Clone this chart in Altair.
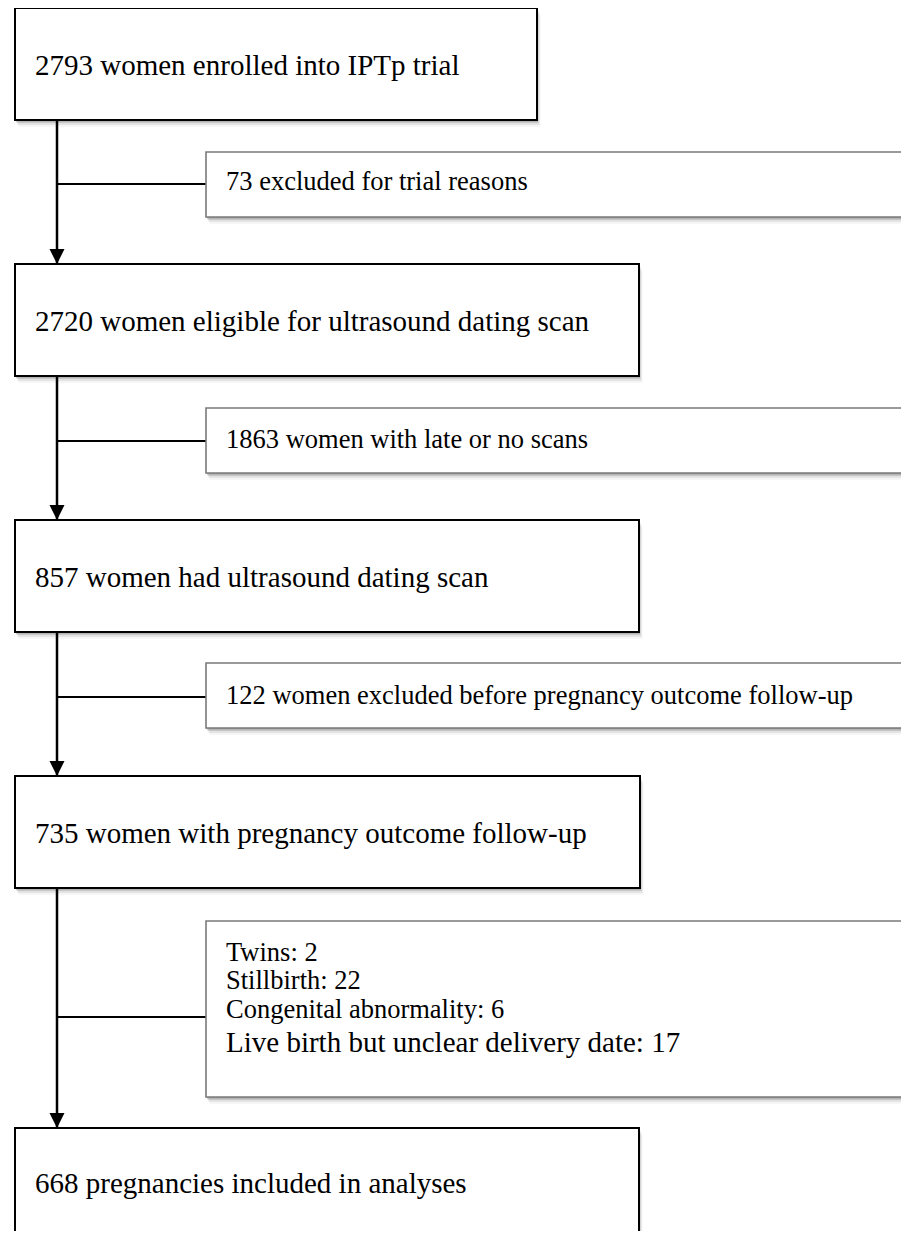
import altair as alt
import pandas as pd

# ---- page geometry (plot area placed at the page margin, identity pixel mapping) ----
W, H = 893, 1223
X0, Y0 = 8, 8

# ---- flowchart content ----
main_labels = [
    "2793 women enrolled into IPTp trial",
    "2720 women eligible for ultrasound dating scan",
    "857 women had ultrasound dating scan",
    "735 women with pregnancy outcome follow-up",
    "668 pregnancies included in analyses",
]
main_left = [15, 15, 15, 15, 15]
main_right = [537, 639, 639, 640, 639]
main_top = [8, 264, 520, 776, 1128]
main_bottom = [120, 376, 632, 888, 1252]
main_text_y = [66, 322, 578, 834, 1184]

side_lines = [
    ["73 excluded for trial reasons"],
    ["1863 women with late or no scans"],
    ["122 women excluded before pregnancy outcome follow-up"],
    ["Twins: 2", "Stillbirth: 22", "Congenital abnormality: 6",
     "Live birth but unclear delivery date: 17"],
]
side_line_y = [[182], [440], [696], [953, 981, 1010, 1043]]
side_line_size = [[26.5], [26.5], [26.5], [26.5, 26.5, 26.5, 29]]
side_left = [206, 206, 206, 206]
side_right = [915, 915, 915, 915]
side_top = [152, 408, 663, 921]
side_bottom = [217, 473, 728, 1097]
branch_y = [184, 441, 697, 1017]

spine_x = 57
text_x_main = 35
text_x_side = 226

# ---- tables ----
main_df = pd.DataFrame({
    "x": main_left, "x2": main_right, "y": main_top, "y2": main_bottom,
    "ty": main_text_y, "tx": text_x_main, "label": main_labels,
})
side_df = pd.DataFrame({
    "x": side_left, "x2": side_right, "y": side_top, "y2": side_bottom,
})
side_text_rows = []
for lines, ys_, ss in zip(side_lines, side_line_y, side_line_size):
    for t, yy, s in zip(lines, ys_, ss):
        side_text_rows.append({"label": t, "ty": yy, "tx": text_x_side, "size": s})
side_text_df = pd.DataFrame(side_text_rows)

spine_df = pd.DataFrame({
    "x": spine_x, "y": main_bottom[:-1], "y2": main_top[1:],
})
arrow_df = pd.DataFrame({"x": spine_x, "y": [t - 7.5 for t in main_top[1:]]})
branch_df = pd.DataFrame({"x": spine_x, "y": branch_y, "x2": side_left})

shadow_rows = []
for df in (main_df, side_df):
    for _, r in df.iterrows():
        for d, op in ((1.5, 0.45), (3, 0.3), (5, 0.16), (7, 0.07)):
            shadow_rows.append({"x": r.x + d * 0.5, "x2": r.x2 + d * 0.5,
                                "y": r.y + d, "y2": r.y2 + d, "op": op})
shadow_df = pd.DataFrame(shadow_rows)

xs = alt.Scale(domain=[X0, X0 + W], nice=False, zero=False)
ys = alt.Scale(domain=[Y0 + H, Y0], nice=False, zero=False)


def X(f):
    return alt.X(f, type="quantitative", scale=xs, axis=None)


def Y(f):
    return alt.Y(f, type="quantitative", scale=ys, axis=None)


shadows = alt.Chart(shadow_df).mark_rect(color="#808080").encode(
    x=X("x"), x2="x2", y=Y("y"), y2="y2",
    opacity=alt.Opacity("op:Q", scale=None),
)

spine = alt.Chart(spine_df).mark_rule(color="black", strokeWidth=2.5).encode(
    x=X("x"), y=Y("y"), y2="y2",
)
branches = alt.Chart(branch_df).mark_rule(color="black", strokeWidth=2).encode(
    x=X("x"), x2="x2", y=Y("y"),
)
arrows = alt.Chart(arrow_df).mark_point(
    shape="M-1,-1L1,-1L0,1Z", filled=True, color="black", opacity=1, size=225,
).encode(x=X("x"), y=Y("y"))

main_boxes = alt.Chart(main_df).mark_rect(
    fill="white", stroke="black", strokeWidth=2,
).encode(x=X("x"), x2="x2", y=Y("y"), y2="y2")

side_boxes = alt.Chart(side_df).mark_rect(
    fill="white", stroke="#7a7a7a", strokeWidth=1.6,
).encode(x=X("x"), x2="x2", y=Y("y"), y2="y2")

main_text = alt.Chart(main_df).mark_text(
    align="left", baseline="middle", font="Liberation Serif", fontSize=29, color="black",
).encode(x=X("tx"), y=Y("ty"), text="label:N")

side_text = alt.Chart(side_text_df).mark_text(
    align="left", baseline="middle", font="Liberation Serif", color="black",
).encode(
    x=X("tx"), y=Y("ty"), text="label:N",
    size=alt.Size("size:Q", scale=None),
)

chart = alt.layer(
    shadows, spine, branches, arrows, main_boxes, side_boxes, main_text, side_text,
).properties(
    width=W, height=H, padding=0, autosize="none", background="white",
).configure_view(stroke=None)

chart.save("out.html", embed_options={"renderer": "svg", "actions": False})
